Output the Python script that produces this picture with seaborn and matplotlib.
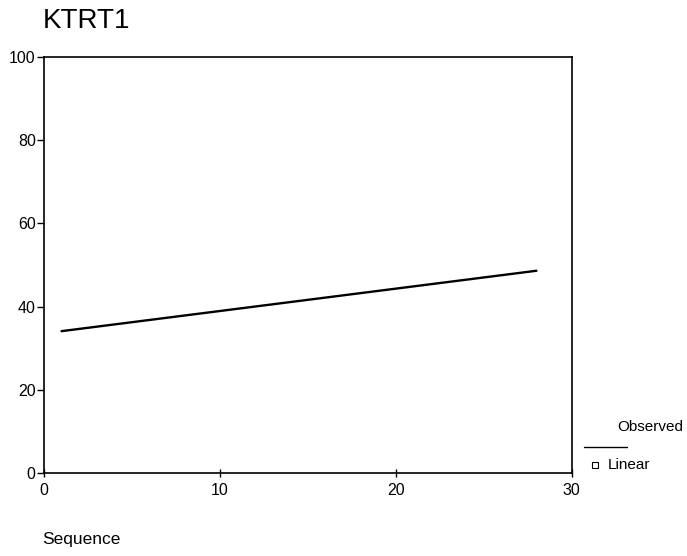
import matplotlib
matplotlib.use("Agg")
import matplotlib.pyplot as plt
import seaborn as sns
import pandas as pd
from matplotlib.lines import Line2D

# values
sequence = [1, 28]
linear_fit = [34.1, 48.6]
x_ticks = [0, 10, 20, 30]
y_ticks = [0, 20, 40, 60, 80, 100]

df = pd.DataFrame({"Sequence": sequence, "Linear": linear_fit})

sns.set_style("white")
plt.rcParams["font.family"] = ["Liberation Sans", "DejaVu Sans"]
plt.rcParams["text.color"] = "black"
plt.rcParams["xtick.color"] = "black"
plt.rcParams["ytick.color"] = "black"

fig = plt.figure(figsize=(6.87, 5.56), dpi=100)
ax = fig.add_axes([0.064, 0.149, 0.768, 0.749])

sns.lineplot(data=df, x="Sequence", y="Linear", color="black", linewidth=1.7, ax=ax)

ax.set_xlim(0, 30)
ax.set_ylim(0, 100)
ax.set_xticks(x_ticks)
ax.set_yticks(y_ticks)
ax.tick_params(axis="y", left=True, direction="out", length=5, width=1,
               labelsize=11.5, pad=1, labelcolor="black")
ax.tick_params(axis="x", bottom=True, direction="inout", length=6, width=1,
               labelsize=11.5, pad=4, labelcolor="black")
for s in ax.spines.values():
    s.set_color("black")
    s.set_linewidth(1.2)
ax.set_xlabel("")
ax.set_ylabel("")

fig.text(0.062, 0.963, "KTRT1", fontsize=20, ha="left", va="center")
fig.text(0.061, 0.029, "Sequence", fontsize=12.5, ha="left", va="center")

# SPSS style legend at the right
fig.text(0.898, 0.232, "Observed", fontsize=11, ha="left", va="center")
fig.add_artist(Line2D([0.850, 0.912], [0.196, 0.196], color="black", linewidth=1,
                      transform=fig.transFigure))
fig.add_artist(Line2D([0.866], [0.164], marker="s", markersize=4, markerfacecolor="white",
                      markeredgecolor="black", markeredgewidth=0.8, linestyle="none",
                      transform=fig.transFigure))
fig.text(0.884, 0.164, "Linear", fontsize=11, ha="left", va="center")

fig.savefig("out.png", dpi=100)
